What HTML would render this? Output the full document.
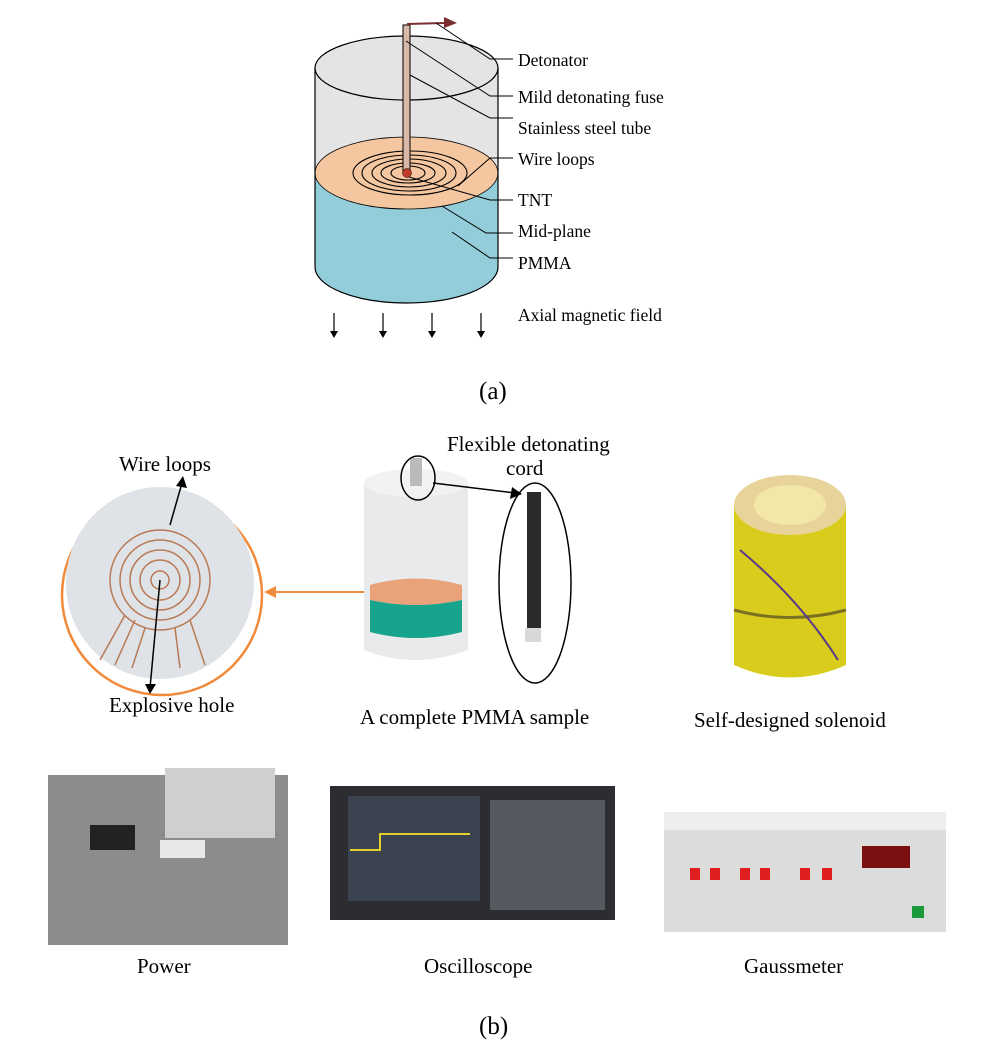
<!DOCTYPE html>
<html><head><style>
body{margin:0;background:#fff;width:982px;height:1056px;overflow:hidden;font-family:"Liberation Serif",serif;}
svg{position:absolute;left:0;top:0}
</style></head><body>
<svg width="982" height="1056" viewBox="0 0 982 1056" font-family="Liberation Serif, serif" font-size="17.5" fill="#000">
<path d="M315 68 L315 267 A91.5 36 0 0 0 498 267 L498 68 Z" fill="#e4e4e4" stroke="none"/>
<path d="M315 173 L315 267 A91.5 36 0 0 0 498 267 L498 173 Z" fill="#93cdd9"/>
<ellipse cx="406.5" cy="68" rx="91.5" ry="32" fill="#e4e4e4" stroke="#000" stroke-width="1.2"/>
<ellipse cx="406.5" cy="173" rx="91.5" ry="36" fill="#f5c7a0" stroke="#000" stroke-width="0.8"/>
<path d="M315 68 L315 267 A91.5 36 0 0 0 498 267 L498 68" fill="none" stroke="#000" stroke-width="1.2"/>
<g fill="none" stroke="#000" stroke-width="1.1">
<ellipse cx="410" cy="173" rx="57" ry="22"/>
<ellipse cx="409" cy="173" rx="47" ry="18"/>
<ellipse cx="409" cy="173" rx="37" ry="14"/>
<ellipse cx="408" cy="173" rx="27" ry="10"/>
<ellipse cx="408" cy="173" rx="17" ry="7"/>
</g>
<rect x="403" y="25" width="7" height="148" fill="#d9b8a8" stroke="#000" stroke-width="1"/>
<circle cx="407" cy="173" r="4.5" fill="#c0392b" stroke="#000" stroke-width="0.5"/>
<path d="M407 24 L444 23" stroke="#7a2e2e" stroke-width="2"/>
<path d="M444 17 L457 23 L444 28 Z" fill="#7a2e2e"/>
<g fill="none" stroke="#000" stroke-width="1">
<polyline points="436,23 490,59 513,59"/>
<polyline points="406,41 490,96 513,96"/>
<polyline points="410,75 490,118 513,118"/>
<polyline points="458,186 490,158 513,158"/>
<polyline points="409,177 490,200 513,200"/>
<polyline points="442,206 486,233 513,233"/>
<polyline points="452,232 490,258 513,258"/>
</g>
<text x="518" y="66">Detonator</text>
<text x="518" y="103">Mild detonating fuse</text>
<text x="518" y="134">Stainless steel tube</text>
<text x="518" y="165">Wire loops</text>
<text x="518" y="206">TNT</text>
<text x="518" y="237">Mid-plane</text>
<text x="518" y="269">PMMA</text>
<text x="518" y="321">Axial magnetic field</text>
<g stroke="#000" stroke-width="1.2">
<line x1="334" y1="313" x2="334" y2="334"/><line x1="383" y1="313" x2="383" y2="334"/>
<line x1="432" y1="313" x2="432" y2="334"/><line x1="481" y1="313" x2="481" y2="334"/>
</g>
<g fill="#000"><path d="M330 331 L334 338 L338 331Z"/><path d="M379 331 L383 338 L387 331Z"/><path d="M428 331 L432 338 L436 331Z"/><path d="M477 331 L481 338 L485 331Z"/></g>
<text x="479" y="399" font-size="25">(a)</text>

<circle cx="162" cy="595" r="100" fill="#fff" stroke="#f08a3a" stroke-width="2.5"/>
<ellipse cx="160" cy="583" rx="94" ry="96" fill="#dfe2e6"/>
<g fill="none" stroke="#b87a55" stroke-width="1.5">
<circle cx="160" cy="580" r="50"/><circle cx="160" cy="580" r="40"/><circle cx="160" cy="580" r="30"/><circle cx="160" cy="580" r="20"/><circle cx="160" cy="580" r="9"/>
<path d="M125 615 L100 660 M135 620 L115 665 M145 628 L132 668 M175 628 L180 668 M190 620 L205 665"/>
</g>
<line x1="160" y1="580" x2="150" y2="688" stroke="#000" stroke-width="1.5"/>
<path d="M145 684 L150 694 L156 684Z"/>
<line x1="170" y1="525" x2="182" y2="483" stroke="#000" stroke-width="1.5"/>
<path d="M176 486 L183 476 L187 488Z"/>
<g font-size="21">
<text x="119" y="471">Wire loops</text>
<text x="109" y="712">Explosive hole</text>
<text x="447" y="451">Flexible detonating</text>
<text x="506" y="475">cord</text>
<text x="360" y="724">A complete PMMA sample</text>
<text x="694" y="727">Self-designed solenoid</text>
<text x="137" y="973">Power</text>
<text x="424" y="973">Oscilloscope</text>
<text x="744" y="973">Gaussmeter</text>
</g>
<line x1="370" y1="592" x2="272" y2="592" stroke="#f08a3a" stroke-width="2"/>
<path d="M276 586 L264 592 L276 598Z" fill="#f08a3a"/>

<path d="M364 483 L364 650 Q414 670 468 650 L468 483 Z" fill="#e8eaec"/>
<ellipse cx="416" cy="483" rx="52" ry="14" fill="#f1f2f3"/>
<rect x="410" y="458" width="12" height="28" fill="#bbb"/>
<path d="M370 585 Q416 572 462 585 L462 600 Q416 610 370 600Z" fill="#e9a27a"/>
<path d="M370 600 Q416 610 462 600 L462 632 Q416 644 370 632Z" fill="#16a58c"/>
<ellipse cx="418" cy="478" rx="17" ry="22" fill="none" stroke="#000" stroke-width="1.5"/>
<line x1="433" y1="483" x2="515" y2="493" stroke="#000" stroke-width="1.5"/>
<path d="M512 487 L522 494 L510 499Z"/>
<ellipse cx="535" cy="583" rx="36" ry="100" fill="none" stroke="#000" stroke-width="1.5"/>
<rect x="527" y="492" width="14" height="140" fill="#2a2a2a"/>
<rect x="525" y="628" width="16" height="14" fill="#d8d8d8"/>

<path d="M734 505 L734 665 Q790 690 846 665 L846 505Z" fill="#d9cc1c"/>
<ellipse cx="790" cy="505" rx="56" ry="30" fill="#e8d49a"/>
<ellipse cx="790" cy="505" rx="36" ry="20" fill="#f3e7a8"/>
<path d="M734 610 Q790 625 846 610" stroke="#7a7020" stroke-width="3" fill="none"/>
<path d="M740 550 Q800 600 838 660" stroke="#5a3a8a" stroke-width="2" fill="none"/>

<rect x="48" y="775" width="240" height="170" fill="#8a8c8e"/>
<rect x="165" y="768" width="110" height="70" fill="#cfcfcf"/>
<rect x="90" y="825" width="45" height="25" fill="#222"/>
<rect x="160" y="840" width="45" height="18" fill="#e8e8e8"/>

<rect x="330" y="786" width="285" height="134" fill="#2b2d30"/>
<rect x="348" y="796" width="132" height="105" fill="#3b4350"/>
<path d="M350 850 H380 V834 H470" stroke="#e3d12a" stroke-width="2" fill="none"/>
<rect x="490" y="800" width="115" height="110" fill="#555a60"/>

<rect x="664" y="812" width="282" height="120" fill="#dcdcdc"/>
<rect x="664" y="812" width="282" height="18" fill="#eee"/>
<rect x="862" y="846" width="48" height="22" fill="#7a1010"/>
<g fill="#e02020"><rect x="690" y="868" width="10" height="12"/><rect x="710" y="868" width="10" height="12"/><rect x="740" y="868" width="10" height="12"/><rect x="760" y="868" width="10" height="12"/><rect x="800" y="868" width="10" height="12"/><rect x="822" y="868" width="10" height="12"/></g>
<rect x="912" y="906" width="12" height="12" fill="#1a9a3a"/>

<text x="479" y="1034" font-size="25">(b)</text>
</svg>
</body></html>
